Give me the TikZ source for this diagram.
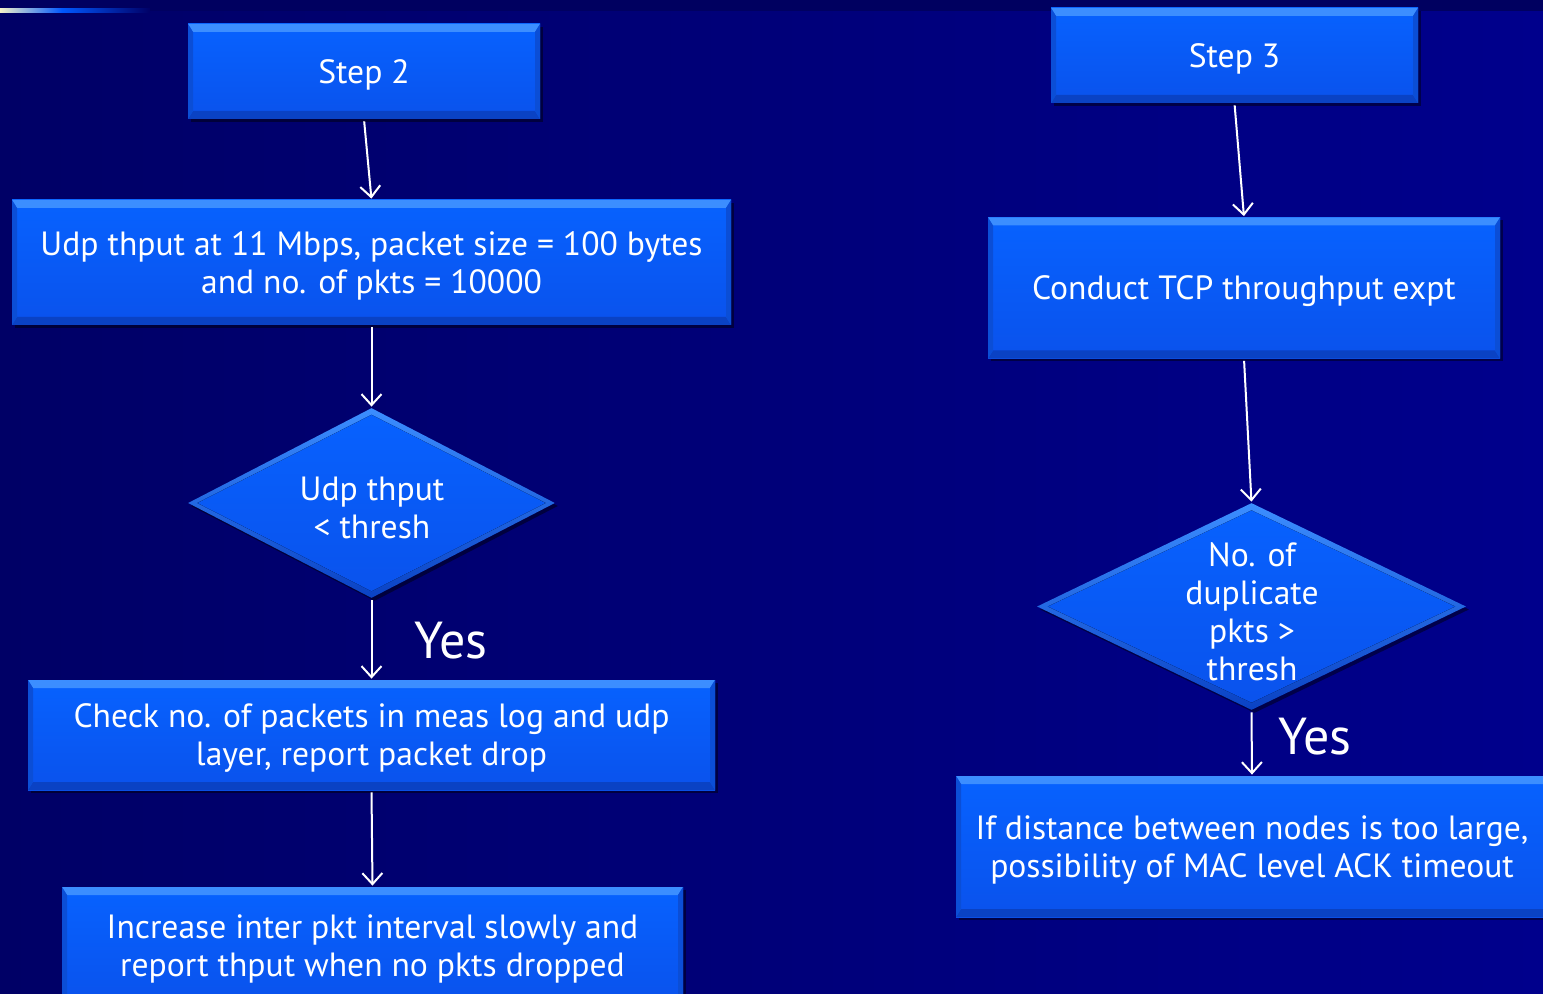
\documentclass[tikz,border=0pt]{standalone}
\usepackage{fontspec}
\setmainfont{PT Sans}
\usetikzlibrary{shapes.geometric,arrows.meta,calc,shadows}
\definecolor{bgtop}{HTML}{000060}
\definecolor{bgleft}{HTML}{000066}
\definecolor{bgright}{HTML}{00008C}
\definecolor{boxtop}{HTML}{0762FF}
\definecolor{boxlow}{HTML}{0A52EC}
\definecolor{bevlight}{HTML}{3C8EFF}
\definecolor{bevdark}{HTML}{0A42C4}
\definecolor{bevside}{HTML}{0B4ED6}
\definecolor{cream}{HTML}{F4F2C8}
\definecolor{linkblue}{HTML}{0058FF}
\begin{document}
\begin{tikzpicture}[x=0.5pt,y=-0.5pt,
  flowbox/.style={rectangle, inner sep=0pt, text=white, align=center,
    font=\fontsize{16.8}{19}\selectfont, text depth=0pt,
    top color=boxtop, bottom color=boxlow,
    drop shadow={shadow xshift=1.5pt,shadow yshift=-1.5pt,opacity=0.45,fill=black},
    path picture={
      % upper bevel
      \fill[bevlight] (path picture bounding box.north west) -- (path picture bounding box.north east)
        -- ([shift={(-2.5pt,-4pt)}]path picture bounding box.north east)
        -- ([shift={(2.5pt,-4pt)}]path picture bounding box.north west) -- cycle;
      % lower bevel
      \fill[bevdark] (path picture bounding box.south west) -- (path picture bounding box.south east)
        -- ([shift={(-2.5pt,4pt)}]path picture bounding box.south east)
        -- ([shift={(2.5pt,4pt)}]path picture bounding box.south west) -- cycle;
      % side bevels
      \fill[bevside] (path picture bounding box.north west) -- ([shift={(2.5pt,-4pt)}]path picture bounding box.north west)
        -- ([shift={(2.5pt,4pt)}]path picture bounding box.south west) -- (path picture bounding box.south west) -- cycle;
      \fill[bevside] (path picture bounding box.north east) -- ([shift={(-2.5pt,-4pt)}]path picture bounding box.north east)
        -- ([shift={(-2.5pt,4pt)}]path picture bounding box.south east) -- (path picture bounding box.south east) -- cycle;
    }},
  decision/.style={diamond, inner sep=0pt, draw=none,
    drop shadow={shadow xshift=1.5pt,shadow yshift=-1.5pt,opacity=0.45,fill=black},
    top color=bevlight, bottom color=bevdark,
    path picture={
      \fill[top color=boxtop, bottom color=boxlow]
        ($(path picture bounding box.center)!0.93!(path picture bounding box.north)$)
        -- ($(path picture bounding box.center)!0.95!(path picture bounding box.east)$)
        -- ($(path picture bounding box.center)!0.93!(path picture bounding box.south)$)
        -- ($(path picture bounding box.center)!0.95!(path picture bounding box.west)$) -- cycle;
    }},
  dtext/.style={text=white, align=center, inner sep=0pt, text depth=0pt,
    font=\fontsize{16.8}{19}\selectfont},
  yeslabel/.style={text=white, inner sep=0pt, font=\fontsize{26}{28}\selectfont},
  flow/.style={draw=white, line width=1pt, shorten <=1pt, shorten >=0.5pt,
    -{Straight Barb[length=5.5pt,width=10pt,line width=1pt]}}
]
\useasboundingbox (0,0) rectangle (1543,994);
\begin{scope}
\clip (0,0) rectangle (1543,994);
% backdrop
\fill[left color=bgleft, right color=bgright] (0,11) rectangle (1543,994);
\fill[bgtop] (0,0) rectangle (1543,11);
\fill[left color=cream, right color=linkblue] (0,9) rectangle (62,13);
\fill[left color=linkblue, right color=bgleft] (62,9) rectangle (150,13);

% left column
\node[flowbox, minimum width=176pt, minimum height=47.5pt] (s2) at (364,71.5) {Step 2};
\node[flowbox, minimum width=359.5pt, minimum height=62.5pt] (udp) at (371.5,262.5)
  {Udp thput at 11 Mbps, packet size = 100 bytes\\and no. of pkts = 10000};
\node[decision, minimum width=183.5pt, minimum height=95pt] (d1) at (371.5,503) {};
\node[dtext] (d1t) at (372,508) {Udp thput\\< thresh};
\node[flowbox, minimum width=343.5pt, minimum height=55pt] (chk) at (371.5,735)
  {Check no. of packets in meas log and udp\\layer, report packet drop};
\node[flowbox, minimum width=310.5pt, minimum height=59pt] (inc) at (372.5,946)
  {Increase inter pkt interval slowly and\\report thput when no pkts dropped};
\node[yeslabel] (y1) at (451,641) {Yes};

% right column
\node[flowbox, minimum width=183.5pt, minimum height=47.5pt] (s3) at (1234.5,55.5) {Step 3};
\node[flowbox, minimum width=256pt, minimum height=70.5pt] (tcp) at (1244,288)
  {Conduct TCP throughput expt};
\node[decision, minimum width=214.5pt, minimum height=103.5pt] (d2) at (1251.5,606.5) {};
\node[dtext] (d2t) at (1252,612) {No. of\\duplicate\\pkts >\\thresh};
\node[flowbox, minimum width=296pt, minimum height=70.5pt] (dist) at (1252,846.5)
  {If distance between nodes is too large,\\possibility of MAC level ACK timeout};
\node[yeslabel] (y2) at (1315,737) {Yes};

% connectors
\draw[flow] (s2.south) -- (udp.north);
\draw[flow] (udp.south) -- (d1.north);
\draw[flow] (d1.south) -- (chk.north);
\draw[flow] (chk.south) -- (inc.north);
\draw[flow] (s3.south) -- (tcp.north);
\draw[flow] (tcp.south) -- (d2.north);
\draw[flow] (d2.south) -- (dist.north);
\end{scope}
\end{tikzpicture}
\end{document}
